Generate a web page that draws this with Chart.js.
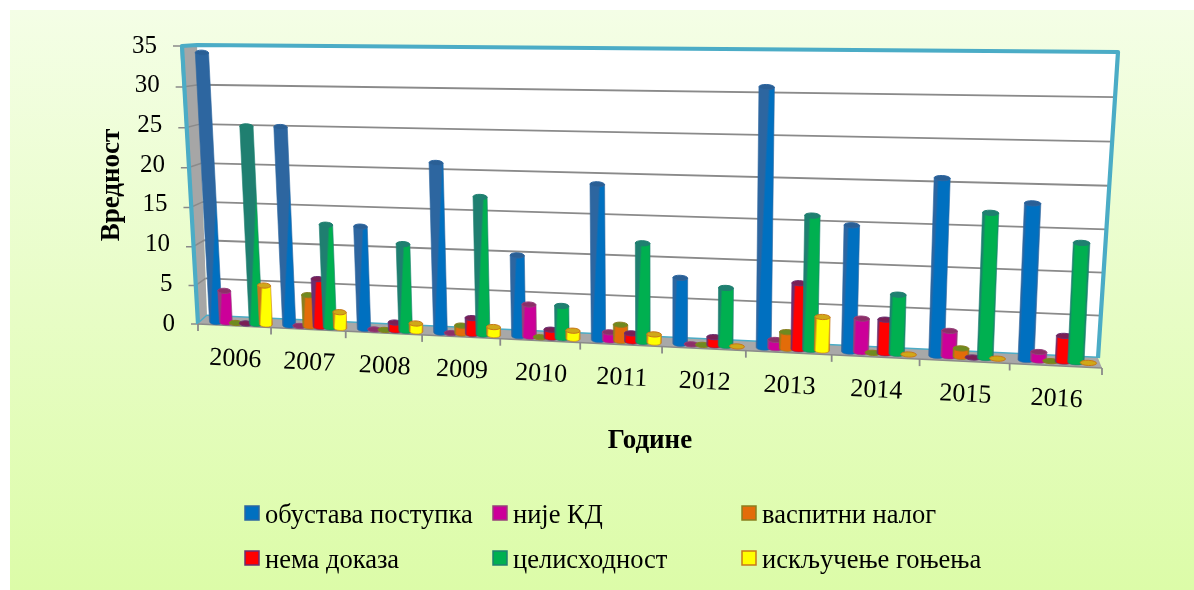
<!DOCTYPE html>
<html><head><meta charset="utf-8">
<style>html,body{margin:0;padding:0;background:#fff;overflow:hidden}canvas{display:block}</style>
<script src="https://cdn.jsdelivr.net/npm/chart.js@4/dist/chart.umd.min.js"></script>
</head><body>
<div style="width:1194px;height:590px"><canvas id="c" width="1194" height="590"></canvas></div>
<script>
const years = ['2006','2007','2008','2009','2010','2011','2012','2013','2014','2015','2016'];
const obustava = [34,25,12.9,21,10,18.9,8,30.6,14.9,20.6,18];
const nijeKD = [4.1,0,0,0,4,1,0,1,4,3,1];
const vaspitni = [0,4,0,1,0,2,0,2,0,1,0];
const nemaDokaza = [0,6.1,1,2,1,1,1,7.9,4,0,3];
const celishodnost = [25,13,10.9,17,4,12,7,15.9,7,16.8,13.7];
const iskljucenje = [5,2,1,1,1,1,0,4,0,0,0];
const seriesNames = ['обустава поступка','није КД','васпитни налог','нема доказа','целисходност','искључење гоњења'];
const seriesValues = [obustava,nijeKD,vaspitni,nemaDokaza,celishodnost,iskljucenje];
const fills = ['#0070c0','#cc0099','#e36c09','#ff0000','#00b050','#ffff00'];
const edges = ['#2d66a0','#96407a','#8a7f1f','#6a2f70','#1f7f70','#c8781a'];
const tops = ['#2a5f95','#8c2f68','#6f8a1f','#7a1f55','#1f8070','#d0a818'];
const SERIF = '"Liberation Serif","Times New Roman",serif';

function homography(p0,p1,p2,p3){
  const dx1=p1[0]-p2[0],dx2=p3[0]-p2[0],sx=p0[0]-p1[0]+p2[0]-p3[0];
  const dy1=p1[1]-p2[1],dy2=p3[1]-p2[1],sy=p0[1]-p1[1]+p2[1]-p3[1];
  const det=dx1*dy2-dx2*dy1;
  const g=(sx*dy2-dx2*sy)/det,h=(dx1*sy-sx*dy1)/det;
  const a=p1[0]-p0[0]+g*p1[0],b=p3[0]-p0[0]+h*p3[0],c=p0[0];
  const d=p1[1]-p0[1]+g*p1[1],e=p3[1]-p0[1]+h*p3[1],f=p0[1];
  return (u,v)=>{const w=g*u+h*v+1;return [(a*u+b*v+c)/w,(d*u+e*v+f)/w];};
}
// corners: bottom-left, bottom-right, top-right, top-left of each plane of the 3D box
const frontPlane = homography([198,324],[1102,368],[1122,52],[180,46]);
const barPlane   = homography([204.5,321.5],[1103,363.6],[1119,50.6],[189.7,44.5]);
const backPlane  = homography([207,316],[1098,358],[1118,52],[197,45]);
let area = null;
const nu = px => (px-area.left)/(area.right-area.left);
const nv = py => (area.bottom-py)/(area.bottom-area.top);

function poly(ctx,pts){ctx.beginPath();pts.forEach((p,i)=>i?ctx.lineTo(p[0],p[1]):ctx.moveTo(p[0],p[1]));}

Chart.BarElement.prototype.draw = function(ctx){
  const o=this.options, hw=this.width/2, bu=[nu(this.x-hw),nu(this.x+hw)], v0=nv(this.base), v1=nv(this.y);
  const bl=barPlane(bu[0],v0), br=barPlane(bu[1],v0), tl=barPlane(bu[0],v1), tr=barPlane(bu[1],v1);
  const ang=Math.atan2(br[1]-bl[1],br[0]-bl[0]);
  const rx=Math.hypot(br[0]-bl[0],br[1]-bl[1])/2, rxT=Math.hypot(tr[0]-tl[0],tr[1]-tl[1])/2, ry=2.6;
  const cb=[(bl[0]+br[0])/2,(bl[1]+br[1])/2], ct=[(tl[0]+tr[0])/2,(tl[1]+tr[1])/2];
  ctx.save();
  if(v1-v0>0.0005){
    const g=ctx.createLinearGradient(bl[0],bl[1],br[0],br[1]);
    g.addColorStop(0,o.borderColor);g.addColorStop(0.14,o.backgroundColor);g.addColorStop(0.86,o.backgroundColor);g.addColorStop(1,o.borderColor);
    ctx.beginPath();
    ctx.moveTo(tl[0],tl[1]);ctx.lineTo(bl[0],bl[1]);
    ctx.ellipse(cb[0],cb[1],rx,ry,ang,Math.PI,0,true);
    ctx.lineTo(tr[0],tr[1]);ctx.closePath();
    ctx.fillStyle=g;ctx.fill();
    ctx.strokeStyle=o.borderColor;ctx.lineWidth=0.6;ctx.stroke();
  }
  ctx.beginPath();ctx.ellipse(ct[0],ct[1],rxT,ry,ang,0,Math.PI*2);
  ctx.fillStyle=tops[this.$series];ctx.fill();
  ctx.strokeStyle=o.borderColor;ctx.lineWidth=1;ctx.stroke();
  ctx.restore();
};

const box3d = {
  id:'box3d',
  beforeDraw(chart){
    const ctx=chart.ctx; area=chart.chartArea;
    const bg=ctx.createLinearGradient(0,10,0,590);
    bg.addColorStop(0,'#f4fee6');bg.addColorStop(1,'#dcfca8');
    ctx.save();
    ctx.fillStyle='#fff';ctx.fillRect(0,0,1194,590);
    ctx.fillStyle=bg;ctx.fillRect(10,10,1184,580);
    const FL=t=>frontPlane(0,t), BL=t=>backPlane(0,t);
    ctx.fillStyle='#fff';poly(ctx,[backPlane(0,1),backPlane(1,1),backPlane(1,0),backPlane(0,0)]);ctx.closePath();ctx.fill();
    ctx.fillStyle='#a6a6a6';poly(ctx,[FL(1),BL(1),BL(0),FL(0)]);ctx.closePath();ctx.fill();
    const ys=chart.scales.y;
    ctx.lineCap='butt';
    ys.ticks.forEach(t=>{
      const v=nv(ys.getPixelForValue(t.value));
      if(t.value>0&&t.value<35){
        ctx.strokeStyle='#8a8a8a';ctx.lineWidth=1.8;
        poly(ctx,[backPlane(0,v),backPlane(1,v)]);ctx.stroke();
      }
      ctx.strokeStyle='#8a8a8a';ctx.lineWidth=1.5;
      const f=FL(v);poly(ctx,[[f[0]-7,f[1]],f,BL(v)]);ctx.stroke();
    });
    ctx.strokeStyle='#4bacc6';ctx.lineJoin='round';ctx.lineWidth=4.2;
    poly(ctx,[FL(0),[FL(1)[0]+2,FL(1)[1]],backPlane(0,1),backPlane(1,1),backPlane(1,0)]);ctx.stroke();
    ctx.lineWidth=3;poly(ctx,[backPlane(1,0),BL(0),FL(0)]);ctx.stroke();
    ctx.fillStyle='#a8a8a8';poly(ctx,[backPlane(0,0),backPlane(1,0),frontPlane(1,0),frontPlane(0,0)]);ctx.closePath();ctx.fill();
    ctx.strokeStyle='#8a8a8a';ctx.lineWidth=1.5;poly(ctx,[frontPlane(0,0),frontPlane(1,0)]);ctx.stroke();
    const xs=chart.scales.x;
    for(let i=0;i<=years.length;i++){
      const p=frontPlane(i/years.length,0);
      ctx.strokeStyle='#8a8a8a';ctx.lineWidth=1.8;poly(ctx,[p,[p[0],p[1]+7]]);ctx.stroke();
    }
    ctx.fillStyle='#000';ctx.font='26px '+SERIF;ctx.textAlign='center';ctx.textBaseline='middle';
    years.forEach((label,i)=>{
      const p=frontPlane(nu(xs.getPixelForTick(i)),0);
      ctx.save();ctx.translate(p[0]+1,p[1]+33.5);ctx.rotate(Math.atan2(44,904));ctx.fillText(label,0,0);ctx.restore();
    });
    ctx.font='25px '+SERIF;ctx.textAlign='right';
    ys.ticks.forEach(t=>{
      const py=ys.getPixelForValue(t.value), f=FL(nv(py));
      ctx.fillText(String(t.value),f[0]-23,py);
    });
    ctx.restore();
  },
  beforeDatasetsDraw(chart){
    // paint series in order so that later series overlap earlier ones
    const ctx=chart.ctx;
    chart.getSortedVisibleDatasetMetas().slice().sort((a,b)=>a.index-b.index).forEach(m=>{
      m.data.forEach(el=>{el.$series=m.index;el.draw(ctx);});
    });
    return false;
  },
  afterDraw(chart){
    const ctx=chart.ctx;
    const cols=[245,493,742], rows=[506,551];
    ctx.save();ctx.font='26.5px '+SERIF;ctx.textAlign='left';ctx.textBaseline='alphabetic';
    chart.data.datasets.forEach((d,i)=>{
      const x=cols[i%3], y=rows[Math.floor(i/3)];
      ctx.fillStyle=d.backgroundColor;ctx.strokeStyle=d.borderColor;ctx.lineWidth=1.5;
      ctx.fillRect(x,y,14,14);ctx.strokeRect(x,y,14,14);
      ctx.fillStyle='#000';ctx.fillText(d.label,x+20,y+17);
    });
    ctx.restore();
  }
};

new Chart(document.getElementById('c'),{
  type:'bar',
  plugins:[box3d],
  data:{labels:years,datasets:seriesValues.map((vals,i)=>({
    label:seriesNames[i],data:vals,backgroundColor:fills[i],borderColor:edges[i],
    clip:false,categoryPercentage:0.82,barPercentage:1.3
  }))},
  options:{
    responsive:false,animation:false,events:[],
    layout:{padding:{left:96,top:46,right:92,bottom:133}},
    plugins:{legend:{display:false},tooltip:{enabled:false}},
    scales:{
      x:{grid:{display:false},border:{display:false},ticks:{display:false},
         title:{display:true,text:'Године',color:'#000',font:{family:SERIF,size:27,weight:'bold'},padding:0},
         afterFit(s){s.height=133;}},
      y:{min:0,max:35,grid:{display:false},border:{display:false},
         ticks:{display:false,stepSize:5},
         title:{display:true,text:'Вредност',color:'#000',font:{family:SERIF,size:27,weight:'bold'},padding:0},
         afterFit(s){s.width=102;}}
    }
  }
});
</script>
</body></html>
